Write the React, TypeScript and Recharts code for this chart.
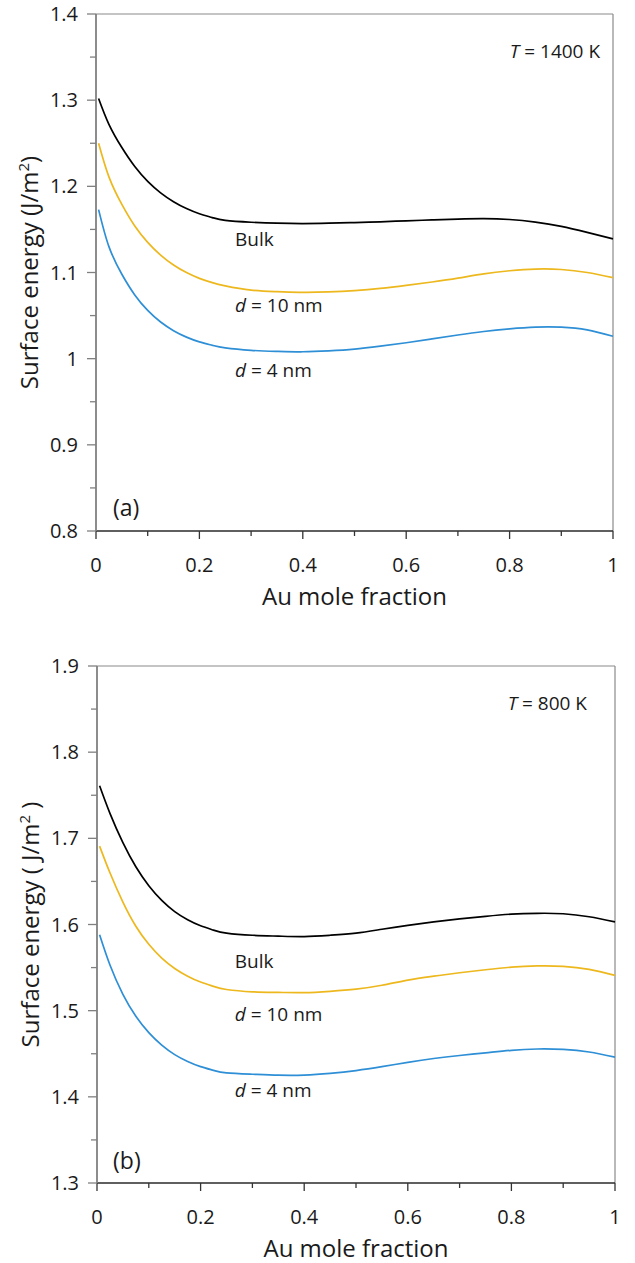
import React from "react";
import { LineChart, Line, XAxis, YAxis, ReferenceLine, ReferenceDot } from "recharts";

const FONT = "'Open Sans', 'DejaVu Sans', sans-serif";
const INK = "#1a1a1a";

// Au mole fraction sample points (shared by both panels)
const auFraction = [0.005, 0.025, 0.05, 0.075, 0.1, 0.125, 0.15, 0.175, 0.2, 0.225, 0.25, 0.3, 0.35, 0.4,
    0.45, 0.5, 0.55, 0.6, 0.65, 0.7, 0.75, 0.8, 0.85, 0.9, 0.95, 1.0];

// (a) T = 1400 K
const bulk1400 = [1.302, 1.272, 1.245, 1.223, 1.2058, 1.1925, 1.1822, 1.1742, 1.1682, 1.1637, 1.1604, 1.1583, 1.1572, 1.1568,
    1.1572, 1.1579, 1.1588, 1.160, 1.161, 1.162, 1.1625, 1.1615, 1.1585, 1.1535, 1.1465, 1.139];
const d10nm1400 = [1.250, 1.211, 1.179, 1.154, 1.135, 1.1202, 1.1087, 1.0999, 1.0932, 1.0882, 1.0845, 1.0795, 1.0778, 1.077,
    1.0775, 1.079, 1.0815, 1.085, 1.089, 1.0935, 1.0985, 1.102, 1.104, 1.1035, 1.100, 1.094];
const d4nm1400 = [1.173, 1.130, 1.098, 1.074, 1.056, 1.0425, 1.0325, 1.025, 1.0195, 1.0155, 1.0125, 1.0097, 1.0085, 1.008,
    1.009, 1.011, 1.0145, 1.0185, 1.023, 1.0275, 1.0315, 1.0345, 1.0365, 1.0365, 1.0335, 1.026];

// (b) T = 800 K
const bulk800 = [1.761, 1.729, 1.695, 1.667, 1.645, 1.628, 1.615, 1.6055, 1.5985, 1.5935, 1.590, 1.5875, 1.5865, 1.586,
    1.5875, 1.590, 1.5945, 1.599, 1.603, 1.6065, 1.6095, 1.612, 1.613, 1.6125, 1.609, 1.603];
const d10nm800 = [1.691, 1.660, 1.626, 1.598, 1.577, 1.561, 1.549, 1.540, 1.5332, 1.5282, 1.5246, 1.5219, 1.5212, 1.521,
    1.5225, 1.525, 1.5295, 1.5355, 1.540, 1.544, 1.5475, 1.5505, 1.552, 1.5515, 1.548, 1.541];
const d4nm800 = [1.588, 1.553, 1.519, 1.4935, 1.4745, 1.460, 1.449, 1.441, 1.435, 1.4307, 1.4278, 1.4262, 1.4251, 1.4252,
    1.4272, 1.4305, 1.435, 1.440, 1.4445, 1.448, 1.451, 1.454, 1.4555, 1.455, 1.452, 1.446];

const xMajor = [0, 0.2, 0.4, 0.6, 0.8, 1];
const xMinor = [0.1, 0.3, 0.5, 0.7, 0.9];
const yMajorA = [0.8, 0.9, 1, 1.1, 1.2, 1.3, 1.4];
const yMinorA = [0.85, 0.95, 1.05, 1.15, 1.25, 1.35];
const yMajorB = [1.3, 1.4, 1.5, 1.6, 1.7, 1.8, 1.9];
const yMinorB = [1.35, 1.45, 1.55, 1.65, 1.75, 1.85];

const buildRows = (bulk: number[], d10: number[], d4: number[]) =>
    auFraction.map((x, i) => ({ x, bulk: bulk[i], d10: d10[i], d4: d4[i] }));

const isMajor = (list: number[], v: number) => list.some(t => Math.abs(t - v) < 1e-6);

const XTick = (props: any) => {
    const { x, y, payload } = props;
    const major = isMajor(xMajor, payload.value);
    return (
        <g>
            <line x1={x} x2={x} y1={y} y2={y + (major ? 8 : 5)} stroke="#333" strokeWidth={1.3} />
            {major && (
                <text x={x} y={y + 41} textAnchor="middle" fontSize={20} fontFamily={FONT} fill={INK}>
                    {payload.value}
                </text>
            )}
        </g>
    );
};

const YTick = (props: any) => {
    const { x, y, payload, majors } = props;
    const major = isMajor(majors, payload.value);
    return (
        <g>
            <line x1={x} x2={x - (major ? 9 : 6)} y1={y} y2={y} stroke="#808080" strokeWidth={1.3} />
            {major && (
                <text x={x - 18} y={y} dy="0.35em" textAnchor="end" fontSize={20} fontFamily={FONT} fill={INK}>
                    {payload.value}
                </text>
            )}
        </g>
    );
};

const XTitle = (props: any) => {
    const { viewBox } = props;
    return (
        <text x={viewBox.x + viewBox.width / 2} y={viewBox.y + 74} textAnchor="middle"
            fontSize={24} fontFamily={FONT} fill={INK}>
            Au mole fraction
        </text>
    );
};

const YTitle = (props: any) => {
    const { viewBox, spaced } = props;
    const cx = viewBox.x - 65;
    const cy = viewBox.y + viewBox.height / 2;
    return (
        <text transform={`rotate(-90 ${cx} ${cy})`} x={cx} y={cy} dy="0.35em" textAnchor="middle"
            fontSize={24} fontFamily={FONT} fill={INK}>
            {spaced ? "Surface energy ( J/m" : "Surface energy (J/m"}
            <tspan dy={-9} fontSize={15}>2</tspan>
            <tspan dy={9}>{spaced ? " )" : ")"}</tspan>
        </text>
    );
};

const Note = (props: any) => {
    const { viewBox, italic, rest, anchor, size } = props;
    return (
        <text x={viewBox.x} y={viewBox.y} dy="0.35em" textAnchor={anchor || "start"}
            fontSize={size || 19} fontFamily={FONT} fill={INK}>
            {italic && <tspan fontStyle="italic">{italic}</tspan>}
            <tspan>{rest}</tspan>
        </text>
    );
};

interface PanelProps {
    rows: { x: number; bulk: number; d10: number; d4: number }[];
    yMajor: number[];
    yMinor: number[];
    height: number;
    margin: { top: number; right: number; bottom: number; left: number };
    spacedTitle?: boolean;
    notes: { x: number; y: number; italic?: string; rest: string; anchor?: string; size?: number }[];
}

const Panel: React.FC<PanelProps> = ({ rows, yMajor, yMinor, height, margin, spacedTitle, notes }) => {
    const yMin = yMajor[0];
    const yMax = yMajor[yMajor.length - 1];
    return (
        <LineChart width={635} height={height} data={rows} margin={margin}>
            <XAxis type="number" dataKey="x" domain={[0, 1]} ticks={[...xMajor, ...xMinor].sort((a, b) => a - b)}
                interval={0} height={1} tickSize={0} tickMargin={0} tickLine={false}
                axisLine={{ stroke: "#2a2a2a", strokeWidth: 1.5 }} tick={<XTick />}
                label={<XTitle />} />
            <YAxis type="number" domain={[yMin, yMax]} ticks={[...yMajor, ...yMinor].sort((a, b) => a - b)}
                interval={0} width={1} tickSize={0} tickMargin={0} tickLine={false}
                axisLine={{ stroke: "#808080", strokeWidth: 1.8 }} tick={<YTick majors={yMajor} />}
                label={<YTitle spaced={spacedTitle} />} />
            <ReferenceLine y={yMax} stroke="#8a8a8a" strokeWidth={1.2} />
            <ReferenceLine x={1} stroke="#8a8a8a" strokeWidth={1.2} />
            <Line type="natural" dataKey="bulk" stroke="#000000" strokeWidth={1.7} dot={false} isAnimationActive={false} />
            <Line type="natural" dataKey="d10" stroke="#EDB81E" strokeWidth={1.7} dot={false} isAnimationActive={false} />
            <Line type="natural" dataKey="d4" stroke="#2E8FD6" strokeWidth={1.7} dot={false} isAnimationActive={false} />
            {notes.map((n, i) => (
                <ReferenceDot key={i} x={n.x} y={n.y} r={0} fill="none" stroke="none"
                    label={<Note italic={n.italic} rest={n.rest} anchor={n.anchor} size={n.size} />} />
            ))}
        </LineChart>
    );
};

const App: React.FC = () => {
    const rowsA = buildRows(bulk1400, d10nm1400, d4nm1400);
    const rowsB = buildRows(bulk800, d10nm800, d4nm800);
    return (
        <div style={{ position: "absolute", top: 0, left: 0, width: 635, height: 1263, background: "#fff" }}>
            <Panel rows={rowsA} yMajor={yMajorA} yMinor={yMinorA} height={632}
                margin={{ top: 14, right: 22, bottom: 100, left: 95 }}
                notes={[
                    { x: 0.269, y: 1.138, rest: "Bulk" },
                    { x: 0.269, y: 1.062, italic: "d", rest: " = 10 nm" },
                    { x: 0.269, y: 0.986, italic: "d", rest: " = 4 nm" },
                    { x: 0.975, y: 1.357, italic: "T", rest: " = 1400 K", anchor: "end" },
                    { x: 0.033, y: 0.827, rest: "(a)", size: 23 },
                ]} />
            <Panel rows={rowsB} yMajor={yMajorB} yMinor={yMinorB} height={631} spacedTitle
                margin={{ top: 34, right: 20, bottom: 79, left: 96 }}
                notes={[
                    { x: 0.266, y: 1.557, rest: "Bulk" },
                    { x: 0.266, y: 1.496, italic: "d", rest: " = 10 nm" },
                    { x: 0.266, y: 1.407, italic: "d", rest: " = 4 nm" },
                    { x: 0.946, y: 1.857, italic: "T", rest: " = 800 K", anchor: "end" },
                    { x: 0.031, y: 1.326, rest: "(b)", size: 23 },
                ]} />
        </div>
    );
};

export default App;
